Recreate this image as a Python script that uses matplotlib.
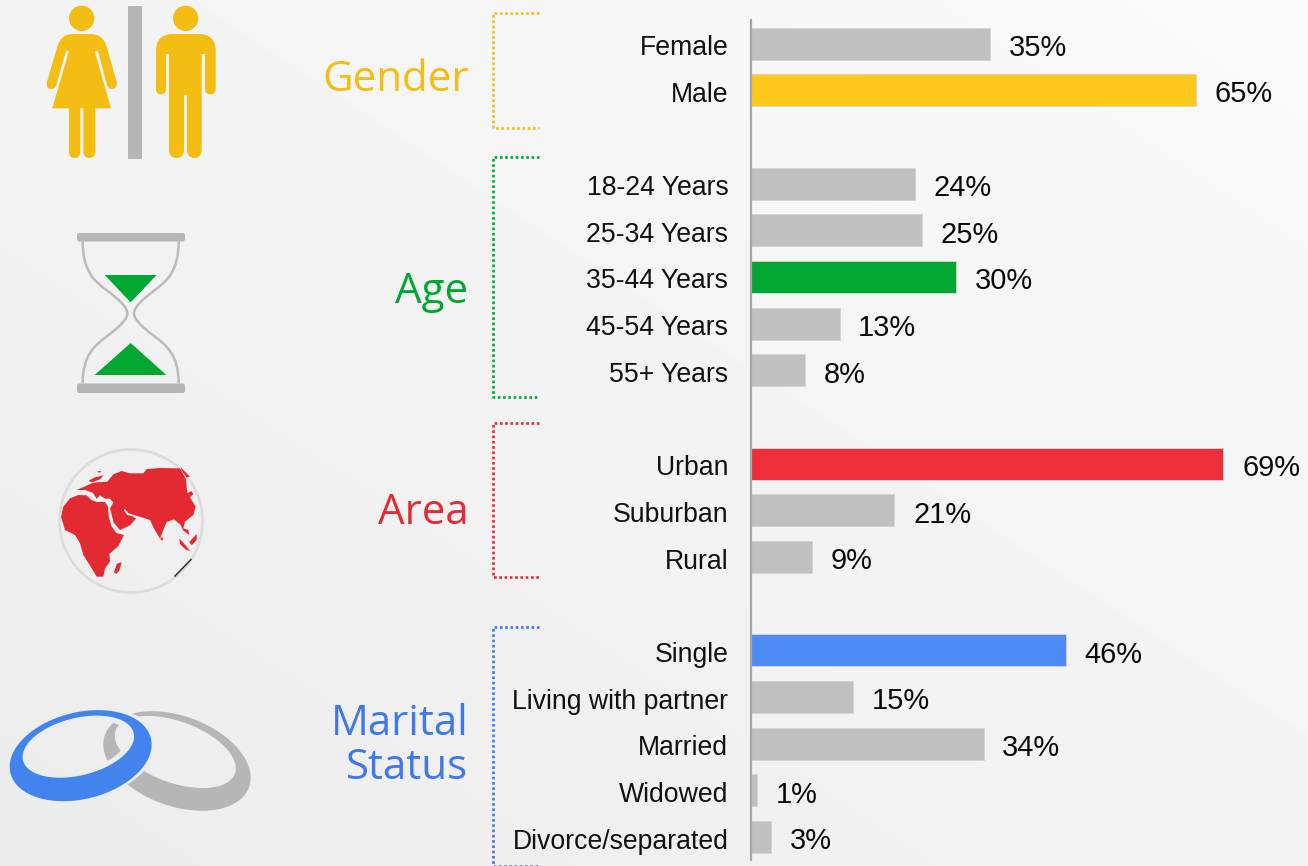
import numpy as np
import matplotlib
matplotlib.use("Agg")
import matplotlib.pyplot as plt
from matplotlib.path import Path
from matplotlib.patches import PathPatch, Circle, FancyBboxPatch, Polygon, Rectangle
from matplotlib.transforms import ScaledTranslation

# ------------------ data ------------------
categories = ["Female", "Male",
              "18-24 Years", "25-34 Years", "35-44 Years", "45-54 Years", "55+ Years",
              "Urban", "Suburban", "Rural",
              "Single", "Living with partner", "Married", "Widowed", "Divorce/separated"]
values = [35, 65, 24, 25, 30, 13, 8, 69, 21, 9, 46, 15, 34, 1, 3]
value_labels = [f"{v}%" for v in values]
group_sizes = [2, 5, 3, 5]
highlight = {"Male": "#FFC81A", "35-44 Years": "#00A832", "Urban": "#EC2F3A", "Single": "#4D8BF7"}
group_titles = ["Gender", "Age", "Area", "Marital\nStatus"]
group_colors = ["#F3BD14", "#00A832", "#E32A36", "#3F78E8"]

GRAY = "#C0C0C0"
ICON_GRAY = "#B6B6B6"
W, H = 1308, 866

fig = plt.figure(figsize=(W / 100, H / 100), dpi=100)

# ------------------ background & decoration layer (pixel coordinates) ------------------
bg = fig.add_axes([0, 0, 1, 1])
bg.axis("off")
u, v = np.meshgrid(np.linspace(0, 1, 260), np.linspace(0, 1, 174))
shade = (243 + 7 * u - 7 * v) / 255
bg.imshow(shade, cmap="gray", vmin=0, vmax=1, extent=(0, W, H, 0), aspect="auto",
          interpolation="bilinear", zorder=0)
bg.set_xlim(0, W)
bg.set_ylim(H, 0)


def shape(cmds, ox=0, oy=0, s=1 / 3):
    """cmds: list of (x, y) lines, or ('q', cx, cy, x, y) quadratic segments."""
    verts, codes = [], []
    for i, c in enumerate(cmds):
        if c[0] == "q":
            verts += [(ox + c[1] * s, oy + c[2] * s), (ox + c[3] * s, oy + c[4] * s)]
            codes += [Path.CURVE3, Path.CURVE3]
        else:
            verts.append((ox + c[0] * s, oy + c[1] * s))
            codes.append(Path.MOVETO if i == 0 else Path.LINETO)
    verts.append(verts[0])
    codes.append(Path.CLOSEPOLY)
    return Path(verts, codes)


def ellipse(cx, cy, a, b, deg, ox=0, oy=430, s=1 / 3, rev=False):
    t = np.linspace(0, 2 * np.pi, 160)
    if rev:
        t = t[::-1]
    r = np.deg2rad(deg)
    x = cx + a * np.cos(t) * np.cos(r) - b * np.sin(t) * np.sin(r)
    y = cy + a * np.cos(t) * np.sin(r) + b * np.sin(t) * np.cos(r)
    return Path(np.c_[ox + x * s, oy + y * s])


def ring(outer, inner):
    return Path.make_compound_path(outer, inner)


YEL = "#F3BD14"
# woman
bg.add_patch(Circle((245 / 3, 55 / 3), 38 / 3, fc=YEL, ec="none", zorder=2))
woman = [(172, 140), ("q", 182, 102, 218, 102), (272, 102), ("q", 310, 102, 320, 140),
         (350, 245), ("q", 354, 266, 336, 267), ("q", 325, 267, 321, 255),
         (294, 153), (284, 153), (333, 325), (286, 325), (286, 455), ("q", 285, 474, 268, 474),
         ("q", 251, 474, 250, 455), (250, 325), (241, 325), (241, 455), ("q", 240, 474, 224, 474),
         ("q", 207, 474, 207, 455), (207, 325), (157, 325), (207, 153), (198, 153),
         (169, 255), ("q", 165, 267, 154, 267), ("q", 136, 266, 141, 245)]
bg.add_patch(PathPatch(shape(woman), fc=YEL, ec="none", zorder=2))
# man
bg.add_patch(Circle((557 / 3, 55 / 3), 38 / 3, fc=YEL, ec="none", zorder=2))
man = [(468, 150), ("q", 470, 104, 516, 102), (600, 102), ("q", 645, 104, 647, 150),
       (647, 268), ("q", 645, 283, 631, 283), ("q", 616, 283, 615, 268), (615, 162), (605, 162),
       (605, 452), ("q", 603, 474, 583, 474), ("q", 563, 474, 561, 452), (561, 285), (552, 285),
       (552, 452), ("q", 550, 474, 530, 474), ("q", 509, 474, 507, 452), (507, 162), (498, 162),
       (498, 268), ("q", 497, 283, 483, 283), ("q", 469, 283, 468, 268)]
bg.add_patch(PathPatch(shape(man), fc=YEL, ec="none", zorder=2))
bg.add_patch(Rectangle((128, 6), 14, 153, fc=ICON_GRAY, ec="none", zorder=2))

# hourglass
for y0, y1 in [(233, 241.5), (383.5, 393)]:
    bg.add_patch(FancyBboxPatch((78.5, y0 + 1.5), 105, y1 - y0 - 3, boxstyle="round,pad=0,rounding_size=1",
                                fc=ICON_GRAY, ec=ICON_GRAY, lw=2.2, zorder=2))
hx = np.array([248, 248, 285, 322, 352, 382, 382, 382, 352, 322, 285, 248, 248]) / 3
hy = np.array([724, 815, 845, 872, 895, 920, 940, 960, 985, 1008, 1035, 1065, 1150]) / 3
cv = [Path.MOVETO] + [Path.CURVE4] * 12
for xs in (hx, 784 / 3 - hx):
    bg.add_patch(PathPatch(Path(np.c_[xs, hy], cv), fc="none", ec="#BBBBBB", lw=1.8, zorder=2))
GRN = "#00A832"
bg.add_patch(Polygon(np.array([(314, 825), (470, 825), (392, 907)]) / 3, fc=GRN, ec="none", zorder=2))
bg.add_patch(Polygon(np.array([(284, 1125), (499, 1125), (392, 1029)]) / 3, fc=GRN, ec="none", zorder=2))

# globe
bg.add_patch(Circle((131, 521), 71.5, fc="none", ec="#DCDCDC", lw=1.9, zorder=2))
RED = "#E32A32"
afr = [(33, 230), (40, 200), (60, 175), (85, 165), (110, 166), (124, 180), (140, 186), (165, 186),
       (174, 200), (176, 228), (184, 258), (199, 279), (222, 285), (205, 318), (178, 342), (180, 365),
       (165, 385), (160, 410), (140, 410), (125, 385), (100, 345), (90, 310), (75, 285), (45, 270)]
eur = [(80, 150), (105, 150), (128, 158), (140, 176), (150, 166), (165, 176), (180, 176),
       (190, 188), (180, 205), (191, 248), (210, 270), (240, 256), (258, 236), (248, 229), (232, 225),
       (222, 212), (224, 206), (236, 220), (256, 226), (275, 232), (300, 240), (310, 262), (330, 296),
       (340, 270), (350, 246), (372, 238), (392, 255), (400, 272), (418, 285), (415, 270), (400, 265),
       (405, 245), (430, 225), (437, 200), (420, 172), (430, 162), (424, 153), (412, 160), (408, 118),
       (390, 85), (330, 84), (290, 87), (280, 100), (240, 100), (215, 93), (190, 103), (172, 125),
       (130, 128), (112, 136)]
islands = [[(192, 397), (200, 372), (215, 366), (208, 392), (198, 402)],
           [(388, 296), (400, 308), (422, 335), (405, 327), (390, 312)],
           [(418, 306), (440, 282), (440, 300), (425, 316)],
           [(332, 293), (340, 293), (338, 301), (332, 300)],
           [(116, 122), (135, 112), (160, 106), (150, 118), (125, 127)],
           [(142, 94), (154, 93), (152, 97), (143, 97)],
           [(392, 82), (420, 110), (410, 112), (395, 92)]]
for poly in [afr, eur] + islands:
    pts = np.array(poly) / 3 + (50, 440)
    bg.add_patch(Polygon(pts, fc=RED, ec="none", zorder=3))
bg.plot([175, 191], [576, 559.5], color="#333333", lw=1.1, zorder=3)

# rings (gray first, gap in background colour, blue on top)
bg.add_patch(PathPatch(ring(ellipse(531, 993, 230, 135, 20), ellipse(526, 966, 190, 92, 20, rev=True)),
                       fc=ICON_GRAY, ec="none", zorder=2))
bg.add_patch(PathPatch(ring(ellipse(242, 977, 232, 136, -14), ellipse(235, 950, 150, 72, -14, rev=True)),
                       fc="#ECEDEE", ec="none", zorder=2.5))
bg.add_patch(PathPatch(ring(ellipse(242, 977, 217, 130, -14), ellipse(235, 950, 171, 86, -14, rev=True)),
                       fc="#4283EE", ec="none", zorder=3))

# ------------------ bar chart ------------------
X0, PX = 750.5, 6.855
TOP, STEP = 43.5, 46.68
ax = fig.add_axes([X0 / W, 0, 1 - X0 / W, 1])
ax.patch.set_alpha(0)
ax.set_xlim(0, (W - X0) / PX)
ax.set_ylim((H - TOP) / STEP, -TOP / STEP)

rows, r = [], 0
for n in group_sizes:
    rows += list(range(r, r + n))
    r += n + 1
rows = np.array(rows)
colors = [highlight.get(c, GRAY) for c in categories]
bars = ax.barh(rows, values, height=32 / STEP, color=colors, edgecolor="#D4D4D4", linewidth=0.7, zorder=2)
for b, lab, val in zip(bars, value_labels, values):
    ax.annotate(lab, (val, b.get_y() + b.get_height() / 2), xytext=(13.4, -3.1), textcoords="offset points",
                ha="left", va="center", fontsize=20.9, family="Liberation Sans", color="#0A0A0A",
                annotation_clip=False)
ax.set_yticks(rows, categories, family="Liberation Sans", fontsize=19.2, color="#111111")
ax.tick_params(axis="y", length=0, pad=16)
shift = ScaledTranslation(0, -1.6 / 100, fig.dpi_scale_trans)
for lab in ax.get_yticklabels():
    lab.set_transform(lab.get_transform() + shift)
ax.xaxis.set_visible(False)
for s in ("top", "right", "bottom"):
    ax.spines[s].set_visible(False)
ax.spines["left"].set_color("#A6A6A6")
ax.spines["left"].set_linewidth(1.6)
ax.spines["left"].set_bounds((20 - TOP) / STEP, (860 - TOP) / STEP)
ax.spines["left"].set_zorder(3)

# ------------------ group brackets & titles ------------------
spans = [(13, 128), (157, 397), (423, 577), (627, 866)]
title_y = [80, 292, 513, 746]
for (y0, y1), col, title, ty in zip(spans, group_colors, group_titles, title_y):
    bg.plot([539, 493, 493, 539], [y0, y0, y1, y1], color=col, lw=1.9, ls=(0, (1, 1)),
            solid_joinstyle="miter", zorder=2, clip_on=True)
    bg.text(468.5, ty, title, ha="right", va="center", color=col, fontsize=30.3,
            family="Open Sans", linespacing=1.04, zorder=4)

fig.savefig("out.png", dpi=100)
